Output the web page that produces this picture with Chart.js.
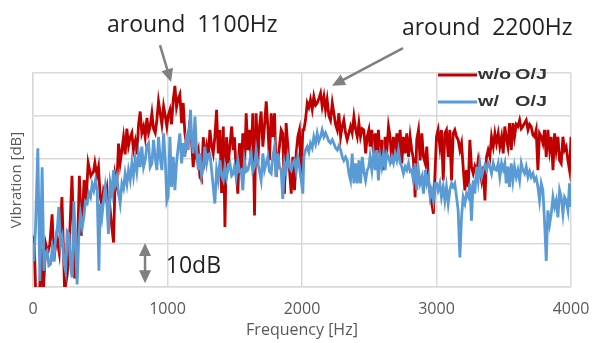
<!DOCTYPE html>
<html>
<head>
<meta charset="utf-8">
<title>Vibration spectrum</title>
<script src="https://cdn.jsdelivr.net/npm/chart.js@4.4.1/dist/chart.umd.min.js"></script>
<style>
    html, body { margin: 0; padding: 0; background: #ffffff; }
    #wrap { width: 593px; height: 343px; }
</style>
</head>
<body>
<div id="wrap"><canvas id="vibChart" width="593" height="343"></canvas></div>
<script>
// ================= DATA =================
const xTicks = [0, 1000, 2000, 3000, 4000];

const freqRed = [
    0, 10, 22, 45, 62, 75, 95, 110, 125, 142, 155, 175, 195, 215, 235, 255, 270, 290, 310, 330, 345, 360, 380, 395, 410, 430, 450, 460, 475,
    487, 500, 512, 524, 537, 549, 561, 574, 586, 599, 611, 623, 636, 648, 661, 673, 685, 698, 710, 723, 735, 747, 760, 772, 785, 797, 809, 822, 834, 847, 859, 871, 884, 896, 909, 921, 933, 946, 958, 971, 983, 995,
    1005, 1018, 1030, 1043, 1055, 1067, 1080, 1092, 1105, 1117, 1129, 1142, 1154, 1167, 1179, 1191, 1204, 1216, 1229, 1241, 1253, 1266, 1278, 1291, 1303, 1315, 1328, 1340, 1352, 1365, 1377, 1390, 1402, 1415, 1427, 1439, 1452, 1464, 1477, 1489,
    1498, 1510, 1523, 1535, 1548, 1560, 1572, 1585, 1597, 1610, 1622, 1634, 1647, 1659, 1672, 1684, 1696, 1709, 1721, 1734, 1746, 1758, 1771, 1783, 1796, 1808, 1820, 1833, 1845, 1857, 1870, 1882, 1895, 1907, 1920, 1932, 1944, 1957, 1969, 1981, 1994, 2006,
    2014, 2026, 2039, 2051, 2063, 2076, 2088, 2101, 2113, 2125, 2138, 2150, 2163, 2175, 2187, 2200, 2212, 2225, 2237, 2249, 2262, 2274, 2287, 2299, 2311, 2324, 2336, 2349, 2361, 2373, 2386, 2398, 2411, 2423, 2435, 2448, 2460, 2473, 2485,
    2497, 2506, 2519, 2531, 2544, 2556, 2568, 2581, 2593, 2606, 2618, 2630, 2643, 2655, 2668, 2680, 2692, 2705, 2717, 2730, 2742, 2754, 2767, 2779, 2792, 2804, 2816, 2828, 2841, 2853, 2866, 2878, 2891, 2903, 2916, 2928, 2940, 2953, 2965, 2977, 2990,
    3000, 3012, 3025, 3037, 3050, 3062, 3074, 3087, 3099, 3112, 3124, 3136, 3149, 3161, 3174, 3186, 3198, 3211, 3223, 3236, 3248, 3260, 3273, 3285, 3298, 3310, 3322, 3335, 3347, 3360, 3372, 3384, 3397, 3409, 3422, 3434, 3446, 3459, 3471, 3484, 3496,
    3508, 3518, 3531, 3543, 3556, 3568, 3580, 3593, 3605, 3618, 3630, 3642, 3655, 3667, 3680, 3692, 3704, 3717, 3729, 3741, 3754, 3766, 3779, 3791, 3803, 3816, 3828, 3841, 3853, 3866, 3878, 3890, 3903, 3915, 3927, 3940, 3952, 3964, 3977, 3989, 4000
];
const dbRed = [
    12, 10, -4, -4, 9, -2, 10, 8, 10, 17, 6, 12, 8, 21, -1, 3, 10, 26, 2, 8, 26, 12, 25, 20, 29, 26, 27, 29, 26,
    28, 21, 19, 22.5, 21, 23, 16, 18, 14, 10.4, 26, 24, 33.5, 29, 32, 35, 31, 37, 33, 35, 36, 32, 34, 31, 38, 41, 36, 37.5, 35, 39.5, 36, 37.5, 40.6, 37, 36, 39, 43.4, 40.6, 38, 42.2, 40, 37.5,
    40, 41.4, 38, 43.8, 47, 42, 44, 45, 38.3, 43, 36, 33, 35, 39, 34, 28, 33, 30.4, 32, 25.7, 25, 35, 30, 32.8, 30, 36.7, 33, 31.2, 35, 41.4, 31.2, 36.7, 22, 37.5, 14, 35, 28.9, 33, 37.5, 32,
    35, 27.3, 21.8, 33.6, 26.5, 35.9, 27.3, 40.6, 32, 36.7, 29.6, 40.6, 16.7, 40.6, 28.9, 37.5, 41, 32.8, 37.5, 43.4, 37.5, 29.6, 40.6, 35.1, 40.6, 25.7, 29.6, 33, 36.7, 35.9, 21.8, 38.3, 32.8, 27.3, 21.8, 30.4, 22.6, 31.2, 35.1, 36.7, 25.7, 36.7,
    36.7, 39, 43, 42, 43.8, 41.5, 44.5, 42.5, 43, 44, 45.3, 42.2, 44.5, 41.4, 43.8, 40, 39, 43, 40.6, 38, 36.7, 40.6, 35.1, 37.5, 39, 36, 34.4, 36, 37.5, 36, 39.8, 37, 35.1, 38.3, 35.1, 37, 36.7, 31.2, 35.1,
    36.7, 32.8, 36.7, 31.2, 35.9, 31.2, 36.7, 30.4, 34.4, 27.3, 35.1, 31.2, 37.5, 35.1, 28.9, 35.1, 29.6, 35.9, 32.8, 36.7, 28.9, 35.1, 31.2, 35.9, 30.4, 35.1, 32, 30, 21, 34.4, 36.7, 29.6, 35.9, 30.4, 28.9, 32.8, 24.9, 21.8, 19.5, 17.1, 27.3,
    35.1, 36.7, 32.8, 36.7, 24.9, 35.9, 36.7, 30.4, 36.7, 24.9, 35.9, 36.7, 35.1, 34.4, 32, 33.6, 28.1, 22.6, 27.3, 23.4, 34.4, 28.1, 26.5, 28.1, 26.5, 29.6, 27.3, 24.9, 28.1, 20.2, 30.4, 32, 30.4, 35.1, 32.8, 35.9, 33.6, 35.9, 32.8, 35.1, 31.2,
    37.5, 35, 32.8, 38.3, 32, 38.3, 35.1, 38, 37.5, 39, 37, 37.5, 38.3, 39, 36.7, 38, 37.5, 35.5, 35.1, 36.7, 27.3, 35.9, 35.1, 33.6, 36.7, 30.4, 36.7, 32, 35.1, 27.3, 35.9, 32, 35.1, 29.6, 28.9, 35.1, 32, 32.8, 29.6, 27.3, 35.1
];

const freqBlue = [
    0, 6, 19, 36, 51, 68, 81, 93, 105, 118, 130, 143, 155, 167, 180, 192, 205, 217, 229, 242, 254, 267, 279, 291, 304, 316, 328, 341, 353, 366, 378, 390, 403, 415, 428, 440, 452, 465, 477, 490,
    499, 512, 524, 537, 549, 561, 574, 586, 599, 611, 623, 636, 648, 661, 673, 685, 698, 710, 723, 735, 747, 760, 772, 785, 797, 809, 822, 834, 847, 859, 871, 884, 896, 909, 921, 933, 946, 958, 971, 983, 995,
    1005, 1018, 1030, 1043, 1055, 1067, 1080, 1092, 1105, 1117, 1129, 1142, 1154, 1171, 1179, 1191, 1204, 1216, 1229, 1241, 1253, 1266, 1278, 1291, 1303, 1315, 1328, 1340, 1352, 1365, 1377, 1390, 1402, 1415, 1427, 1439, 1452, 1464, 1477, 1489,
    1498, 1510, 1523, 1535, 1548, 1560, 1572, 1585, 1597, 1610, 1622, 1634, 1647, 1659, 1672, 1684, 1696, 1709, 1721, 1734, 1746, 1758, 1771, 1783, 1796, 1808, 1820, 1833, 1845, 1857, 1870, 1882, 1895, 1907, 1920, 1932, 1944, 1957, 1969, 1981, 1994, 2006,
    2014, 2026, 2039, 2051, 2063, 2076, 2088, 2101, 2113, 2125, 2138, 2150, 2163, 2175, 2187, 2200, 2212, 2225, 2237, 2249, 2262, 2274, 2287, 2299, 2311, 2324, 2336, 2349, 2361, 2373, 2386, 2398, 2411, 2423, 2435, 2448, 2460, 2473, 2485,
    2497, 2506, 2519, 2531, 2544, 2556, 2568, 2581, 2593, 2606, 2618, 2630, 2643, 2655, 2668, 2680, 2692, 2705, 2717, 2730, 2742, 2754, 2767, 2779, 2792, 2804, 2816, 2828, 2841, 2853, 2866, 2878, 2891, 2903, 2916, 2928, 2940, 2953, 2965, 2977, 2990,
    3000, 3012, 3025, 3037, 3050, 3062, 3074, 3087, 3099, 3112, 3124, 3136, 3149, 3161, 3174, 3186, 3198, 3211, 3223, 3236, 3248, 3260, 3273, 3285, 3298, 3310, 3322, 3335, 3347, 3360, 3372, 3384, 3397, 3409, 3422, 3434, 3446, 3459, 3471, 3484, 3496,
    3508, 3518, 3531, 3543, 3556, 3568, 3580, 3593, 3605, 3618, 3630, 3642, 3655, 3667, 3680, 3692, 3704, 3717, 3729, 3741, 3754, 3766, 3779, 3791, 3803, 3816, 3828, 3841, 3853, 3866, 3878, 3890, 3903, 3915, 3927, 3940, 3952, 3964, 3977, 3989, 4000
];
const dbBlue = [
    10, 6, 14, 32.4, 1.4, 28, 3.8, 8, 8.5, 5, 5.3, 9, 6, 11, 13, 18.7, 10, 11.6, 6, 3.8, 13, 12.4, 5, 2.2, 20, 10, 0.6, 12, 17.1, 14, 16.3, 20, 19.5, 22, 21, 24, 22.6, 25, 22.6, 3.8,
    19.5, 16.3, 20, 23.4, 19.5, 12.4, 24.2, 22, 27.3, 24, 25.7, 22, 19.5, 24.2, 23, 26.5, 24, 27.3, 25, 28.9, 26, 30, 27, 31.2, 28, 32.8, 28, 29.6, 33, 33.6, 28, 28.9, 34.4, 30, 27.3, 35.1, 30, 27.3, 35.9, 30, 20,
    21, 35.1, 23.4, 30.4, 22.6, 28.9, 32.8, 35.9, 28.9, 33.6, 30.4, 36, 32, 41.4, 35.1, 31.2, 39.8, 32, 27.3, 31.2, 26, 28.1, 32.8, 28.9, 31, 31.2, 27.3, 23.4, 19.5, 27.3, 25, 29.6, 26, 24.9, 28.1, 25.7, 28, 28.9, 26, 26.5,
    28.1, 25.7, 29.6, 27, 27.3, 22.6, 29.6, 27, 27.3, 29, 31.2, 27, 28.1, 32, 28.9, 27, 24.9, 31.2, 27.3, 29, 30.4, 27, 26.5, 30.4, 32.8, 25.7, 31.2, 28, 27.3, 20.6, 28.9, 27, 30.4, 28, 27.3, 29, 29.6, 27, 30.4, 28.1, 25, 21.8,
    30.4, 32, 32.8, 31.5, 33.6, 32.5, 35.1, 33.5, 35.9, 34, 35.1, 36.7, 35.1, 36, 35.1, 34, 33.6, 34.4, 33.6, 32.5, 32, 33, 32, 30.5, 29.6, 30.4, 29.6, 26.5, 24.9, 31.2, 24.2, 28.9, 24.2, 29.6, 24.2, 30.4, 27, 24.9, 27.3,
    28.1, 30.4, 27.3, 31.2, 27.3, 32, 24.9, 30.4, 28.1, 31.2, 27.3, 31.2, 30.4, 29, 30.4, 29, 31.2, 29.6, 32, 29, 28.1, 26.5, 28.1, 27.3, 28.9, 27, 27.3, 24.9, 28.9, 22.6, 27.3, 24.2, 25.7, 21.8, 27.3, 24.2, 25.7, 21, 22.6, 20.2, 24.2,
    24.2, 22.6, 24.2, 21, 23.4, 20.2, 23.4, 19.5, 22.6, 24.2, 23.4, 24.2, 21, 17.9, 6.9, 16.3, 21, 19.5, 21.8, 21, 24.2, 15.5, 24.9, 21.8, 28.1, 24.9, 28.9, 25.7, 27.3, 28.5, 27.3, 29, 28.1, 26.5, 28.9, 27.5, 27.3, 28.9, 25.7, 28.9, 27.5,
    28.9, 24.2, 28.1, 23.4, 28.9, 24.9, 28.1, 25.7, 27.3, 24.9, 28.9, 27.3, 26.5, 28.1, 25.7, 27, 25.7, 26.5, 24.9, 25.5, 23.4, 20.2, 24.2, 22.6, 15.5, 6.1, 17.9, 14.7, 17.1, 21, 18.7, 20.2, 16.3, 22.6, 21, 17.1, 21, 20.2, 17.9, 24.2, 18.7
];

// annotation anchors in data units (Hz, dB)
const notes = [
    { text: "around  1100Hz", f: 550, db: 59.6 },
    { text: "around  2200Hz", f: 2743, db: 58.9 },
    { text: "10dB", f: 987, db: 3.3 }
];
const arrows = [
    { from: [944, 56.5], to: [1026, 47.9], both: false },
    { from: [2751, 55.8], to: [2223, 47.0], both: false },
    { from: [833, 10.3], to: [833, 0.9], both: true }
];

function toPoints(xs, ys) {
    return xs.map(function (x, i) { return { x: x, y: ys[i] }; });
}

function drawHead(ctx, x, y, ang, len, half) {
    ctx.beginPath();
    ctx.moveTo(x, y);
    ctx.lineTo(x - len * Math.cos(ang) + half * Math.sin(ang), y - len * Math.sin(ang) - half * Math.cos(ang));
    ctx.lineTo(x - len * Math.cos(ang) - half * Math.sin(ang), y - len * Math.sin(ang) + half * Math.cos(ang));
    ctx.closePath();
    ctx.fill();
}

// ================= NOTES + ARROWS =================
const notesPlugin = {
    id: "notes",
    afterDraw: function (chart) {
        const ctx = chart.ctx;
        const xs = chart.scales.x;
        const ys = chart.scales.y;
        ctx.save();
        ctx.strokeStyle = "#808080";
        ctx.fillStyle = "#808080";
        ctx.lineWidth = 2.5;
        arrows.forEach(function (a) {
            const x1 = xs.getPixelForValue(a.from[0]), y1 = ys.getPixelForValue(a.from[1]);
            const x2 = xs.getPixelForValue(a.to[0]), y2 = ys.getPixelForValue(a.to[1]);
            const ang = Math.atan2(y2 - y1, x2 - x1);
            const len = 11;
            const sx = a.both ? x1 + len * Math.cos(ang) : x1;
            const sy = a.both ? y1 + len * Math.sin(ang) : y1;
            ctx.beginPath();
            ctx.moveTo(sx, sy);
            ctx.lineTo(x2 - len * Math.cos(ang), y2 - len * Math.sin(ang));
            ctx.stroke();
            drawHead(ctx, x2, y2, ang, len + 2, 6);
            if (a.both) drawHead(ctx, x1, y1, ang + Math.PI, len + 2, 6);
        });
        ctx.fillStyle = "#231f20";
        ctx.font = "23px 'Open Sans', sans-serif";
        ctx.textBaseline = "alphabetic";
        ctx.textAlign = "left";
        notes.forEach(function (n) {
            ctx.fillText(n.text, xs.getPixelForValue(n.f), ys.getPixelForValue(n.db));
        });
        ctx.restore();
    }
};

// ================= LEGEND (top right, inside plot) =================
const legendPlugin = {
    id: "cornerLegend",
    afterDraw: function (chart) {
        const ctx = chart.ctx;
        const area = chart.chartArea;
        ctx.save();
        chart.data.datasets.forEach(function (ds, i) {
            const y = area.top + 2 + i * 27;
            ctx.strokeStyle = ds.borderColor;
            ctx.lineWidth = 3;
            ctx.beginPath();
            ctx.moveTo(area.right - 133, y);
            ctx.lineTo(area.right - 94, y);
            ctx.stroke();
            const parts = ds.label.split(" ");
            ctx.fillStyle = "#333333";
            ctx.font = "bold 15px 'Liberation Sans', Arial, sans-serif";
            ctx.textBaseline = "middle";
            ctx.save();
            ctx.translate(area.right - 93, y);
            ctx.scale(1.32, 1);
            ctx.fillText(parts[0], 0, 0);
            ctx.restore();
            ctx.save();
            ctx.translate(area.right - 56, y);
            ctx.scale(1.32, 1);
            ctx.fillText(parts[parts.length - 1], 0, 0);
            ctx.restore();
        });
        ctx.restore();
    }
};

document.addEventListener("DOMContentLoaded", function () {
    Chart.defaults.font.family = "'Open Sans', sans-serif";
    const ctx = document.getElementById("vibChart").getContext("2d");

    new Chart(ctx, {
        type: "line",
        data: {
            datasets: [
                {
                    label: "w/o O/J",
                    data: toPoints(freqRed, dbRed),
                    borderColor: "#c00000",
                    borderWidth: 2.8,
                    pointRadius: 0,
                    tension: 0,
                    order: 2
                },
                {
                    label: "w/ O/J",
                    data: toPoints(freqBlue, dbBlue),
                    borderColor: "#5b9bd5",
                    borderWidth: 2.8,
                    pointRadius: 0,
                    tension: 0,
                    order: 1
                }
            ]
        },
        options: {
            responsive: false,
            animation: false,
            layout: { padding: { top: 73, right: 22, bottom: 0, left: 0 } },
            plugins: {
                legend: { display: false },
                tooltip: { enabled: false }
            },
            scales: {
                x: {
                    type: "linear",
                    min: 0,
                    max: 4000,
                    afterBuildTicks: function (scale) {
                        scale.ticks = xTicks.map(function (v) { return { value: v }; });
                    },
                    afterFit: function (scale) {
                        scale.height = 56;
                        scale.paddingLeft = 0;
                        scale.paddingRight = 0;
                    },
                    grid: { color: "#d9d9d9", lineWidth: 1.5, drawTicks: false },
                    border: { color: "#d9d9d9", width: 1.5 },
                    ticks: {
                        color: "#595959",
                        font: { size: 16 },
                        padding: 13,
                        maxRotation: 0,
                        callback: function (v) { return String(v); }
                    },
                    title: {
                        display: true,
                        text: "Frequency [Hz]",
                        color: "#595959",
                        font: { size: 16 },
                        padding: { top: 0, bottom: 3 }
                    }
                },
                y: {
                    min: 0,
                    max: 50,
                    ticks: { display: false, stepSize: 10 },
                    afterFit: function (scale) { scale.width = 33; },
                    grid: { color: "#d9d9d9", lineWidth: 1.5, drawTicks: false },
                    border: { color: "#d9d9d9", width: 1.5 },
                    title: {
                        display: true,
                        text: "Vibration [dB]",
                        color: "#595959",
                        font: { size: 15 },
                        padding: { top: 8, bottom: 0 }
                    }
                }
            }
        },
        plugins: [notesPlugin, legendPlugin]
    });
});
</script>
</body>
</html>
